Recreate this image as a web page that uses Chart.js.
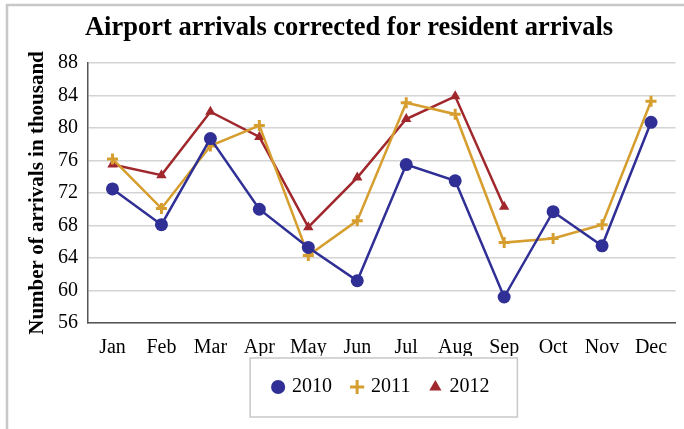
<!DOCTYPE html>
<html>
<head>
<meta charset="utf-8">
<script src="https://cdn.jsdelivr.net/npm/chart.js@4.4.0/dist/chart.umd.min.js"></script>
<style>
  html, body { margin: 0; padding: 0; background: #fff; }
  #wrap { width: 684px; height: 429px; }
</style>
</head>
<body>
<div id="wrap"><canvas id="chart" width="684" height="429"></canvas></div>
<script>
const months = ['Jan', 'Feb', 'Mar', 'Apr', 'May', 'Jun', 'Jul', 'Aug', 'Sep', 'Oct', 'Nov', 'Dec'];
const arrivals2010 = [72.5, 68.1, 78.7, 70.0, 65.3, 61.2, 75.5, 73.5, 59.2, 69.7, 65.5, 80.7];
const arrivals2011 = [76.2, 70.1, 77.8, 80.3, 64.3, 68.6, 83.1, 81.7, 65.9, 66.4, 68.1, 83.3];
const arrivals2012 = [75.5, 74.2, 82.0, 78.9, 67.8, 73.9, 81.1, 83.9, 70.3, null, null, null];
const yTicks = [56, 60, 64, 68, 72, 76, 80, 84, 88];

const SERIF = "'Liberation Serif', 'Times New Roman', serif";
const BLUE = '#2f2f96';
const GOLD = '#d69e2e';
const RED = '#a0282d';

// outer frame (top + left edge) and the box round the legend
const framePlugin = {
  id: 'frame',
  beforeDraw(chart) {
    const c = chart.ctx;
    c.save();
    c.fillStyle = '#fff';
    c.fillRect(0, 0, chart.width, chart.height);
    c.strokeStyle = '#c8c8c8';
    c.lineWidth = 2.5;
    c.beginPath();
    c.moveTo(chart.width, 5);
    c.lineTo(7, 5);
    c.lineTo(7, chart.height);
    c.stroke();
    c.restore();
  },
  afterDraw(chart) {
    const boxes = chart.legend && chart.legend.legendHitBoxes;
    if (!boxes || !boxes.length) return;
    const first = boxes[0], last = boxes[boxes.length - 1];
    const c = chart.ctx;
    c.save();
    c.strokeStyle = '#c8c8c8';
    c.lineWidth = 1.5;
    const x0 = first.left - 24, x1 = last.left + last.width + 28;
    const y0 = first.top - 19, y1 = first.top + first.height + 20;
    c.strokeRect(x0, y0, x1 - x0, y1 - y0);
    c.restore();
  }
};

new Chart(document.getElementById('chart'), {
  type: 'line',
  data: {
    labels: months,
    datasets: [
      {
        label: '2010',
        data: arrivals2010,
        borderColor: BLUE,
        backgroundColor: BLUE,
        borderWidth: 2.5,
        pointStyle: 'circle',
        pointRadius: 6.5,
        pointBorderWidth: 0,
        tension: 0,
      },
      {
        label: '2011',
        data: arrivals2011,
        borderColor: GOLD,
        backgroundColor: GOLD,
        borderWidth: 2.5,
        pointStyle: 'cross',
        pointRadius: 5.5,
        pointBorderWidth: 3,
        tension: 0,
      },
      {
        label: '2012',
        data: arrivals2012,
        borderColor: RED,
        backgroundColor: RED,
        borderWidth: 2.5,
        pointStyle: 'triangle',
        pointRadius: 6,
        pointBorderWidth: 0,
        tension: 0,
        spanGaps: false,
      }
    ]
  },
  options: {
    responsive: false,
    animation: false,
    layout: { padding: { left: 14, right: 0, top: 0, bottom: 22 } },
    scales: {
      x: {
        offset: true,
        grid: { display: true, drawOnChartArea: false, drawTicks: false, offset: true },
        border: { color: '#555', width: 1.5 },
        ticks: { color: '#000', font: { family: SERIF, size: 20 }, padding: 13, maxRotation: 0, autoSkip: false },
        afterFit: s => { s.height = 33; }
      },
      y: {
        min: 56,
        max: 88,
        afterBuildTicks: s => { s.ticks = yTicks.map(v => ({ value: v })); },
        grid: { color: '#d4d4d4', lineWidth: 1.5, drawTicks: false },
        border: { color: '#555', width: 1.5 },
        ticks: { color: '#000', font: { family: SERIF, size: 20 }, padding: 10 },
        title: {
          display: true,
          text: 'Number of arrivals in thousand',
          color: '#000',
          font: { family: SERIF, size: 21, weight: 'bold' },
          padding: { top: 11, bottom: 0 }
        },
        afterFit: s => { s.width = 74; }
      },
      yRight: {
        position: 'right',
        grid: { display: false },
        border: { display: false },
        ticks: { display: false },
        afterFit: s => { s.width = 7; }
      }
    },
    plugins: {
      title: {
        display: true,
        text: 'Airport arrivals corrected for resident arrivals',
        color: '#000',
        font: { family: SERIF, size: 26.5, weight: 'bold' },
        padding: { top: 12, bottom: 19.2 }
      },
      legend: {
        display: true,
        position: 'bottom',
        fullSize: false,
        labels: {
          color: '#000',
          font: { family: SERIF, size: 20 },
          usePointStyle: true,
          boxWidth: 8,
          boxHeight: 10,
          padding: 21
        }
      },
      tooltip: { enabled: false }
    }
  },
  plugins: [framePlugin]
});
</script>
</body>
</html>
